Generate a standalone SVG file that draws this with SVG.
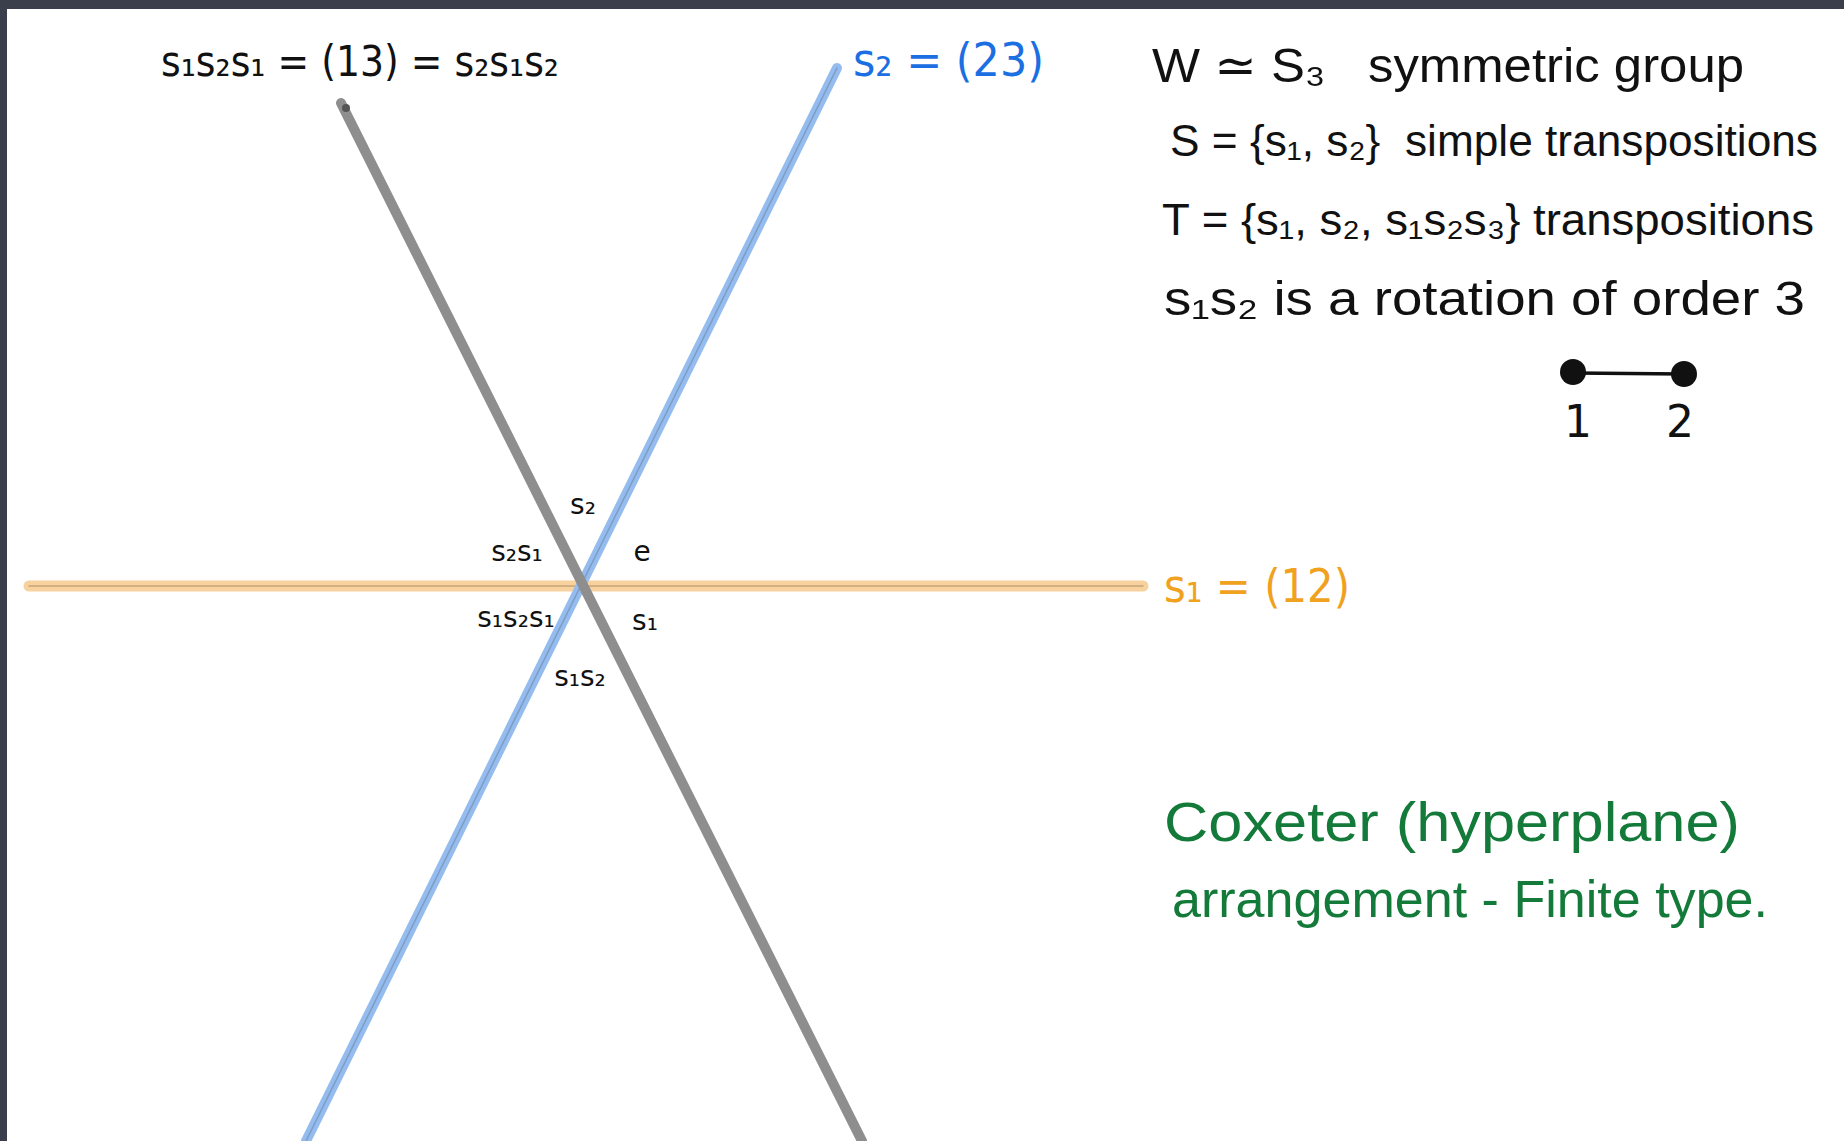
<svg xmlns="http://www.w3.org/2000/svg" width="1844" height="1141" viewBox="0 0 1844 1141">
<style>
text{font-family:"DejaVu Sans","Liberation Sans",sans-serif;white-space:pre;}
.k{fill:#111;}
.note{font-family:"Liberation Sans","DejaVu Sans",sans-serif;fill:#111;}
.lab{font-size:28px;fill:#111;}
.blue{fill:#1c6fe2;}
.orange{fill:#f0a11e;}
.green{font-family:"Liberation Sans","DejaVu Sans",sans-serif;fill:#137a3a;}
</style>
<rect x="0" y="0" width="1844" height="1141" fill="#3b3e4b"/>
<rect x="7" y="9" width="1837" height="1132" fill="#ffffff"/>
<g id="connectors" stroke-linecap="round">
  <g id="line-s1">
    <line x1="29" y1="586" x2="1143" y2="586" stroke="#f8d29e" stroke-width="11"/>
    <line x1="29" y1="586" x2="1143" y2="586" stroke="#c8a477" stroke-width="1.5"/>
  </g>
  <g id="line-s2">
    <line x1="837" y1="68" x2="306" y2="1141" stroke="#94bcef" stroke-width="10"/>
    <line x1="837" y1="68" x2="306" y2="1141" stroke="#7f9cc4" stroke-width="1.5"/>
  </g>
  <g id="line-s1s2s1">
    <line x1="341" y1="103" x2="862" y2="1141" stroke="#8e8e8e" stroke-width="10"/>
    <circle cx="346" cy="108" r="4" fill="#555"/>
  </g>
</g>
<g id="label-s1s2s1"><text class="k" x="161" y="76" font-size="42" textLength="398" lengthAdjust="spacingAndGlyphs">s₁s₂s₁ = (13) = s₂s₁s₂</text></g>
<g id="label-s2"><text class="blue" x="853" y="76" font-size="46" textLength="191" lengthAdjust="spacingAndGlyphs">s₂ = (23)</text></g>
<g id="label-s1"><text class="orange" x="1164" y="602" font-size="46" textLength="186" lengthAdjust="spacingAndGlyphs">s₁ = (12)</text></g>
<g id="notes">
  <text class="note" x="1152" y="82" font-size="48" textLength="592" lengthAdjust="spacingAndGlyphs">W ≃ S₃   symmetric group</text>
  <text class="note" x="1170" y="156" font-size="44" textLength="648" lengthAdjust="spacingAndGlyphs">S = {s₁, s₂}  simple transpositions</text>
  <text class="note" x="1162" y="235" font-size="44" textLength="652" lengthAdjust="spacingAndGlyphs">T = {s₁, s₂, s₁s₂s₃} transpositions</text>
  <text class="note" x="1164" y="315" font-size="48" textLength="641" lengthAdjust="spacingAndGlyphs">s₁s₂ is a rotation of order 3</text>
</g>
<g id="dynkin">
  <line x1="1573" y1="373" x2="1684" y2="374" stroke="#111" stroke-width="3.5"/>
  <circle id="node-1" cx="1573" cy="372" r="13" fill="#111"/>
  <circle id="node-2" cx="1684" cy="374" r="13" fill="#111"/>
  <text class="k" x="1578" y="437" font-size="44" text-anchor="middle">1</text>
  <text class="k" x="1680" y="437" font-size="44" text-anchor="middle">2</text>
</g>
<g id="chambers">
  <text class="lab" x="583" y="514" text-anchor="middle">s₂</text>
  <text class="lab" x="517" y="561" text-anchor="middle">s₂s₁</text>
  <text class="lab" x="642" y="561" font-size="34" text-anchor="middle">e</text>
  <text class="lab" x="516" y="627" text-anchor="middle">s₁s₂s₁</text>
  <text class="lab" x="645" y="630" text-anchor="middle">s₁</text>
  <text class="lab" x="580" y="686" text-anchor="middle">s₁s₂</text>
</g>
<g id="caption">
  <text class="green" x="1164" y="841" font-size="56" textLength="576" lengthAdjust="spacingAndGlyphs">Coxeter (hyperplane)</text>
  <text class="green" x="1172" y="917" font-size="52" textLength="596" lengthAdjust="spacingAndGlyphs">arrangement - Finite type.</text>
</g>
</svg>
